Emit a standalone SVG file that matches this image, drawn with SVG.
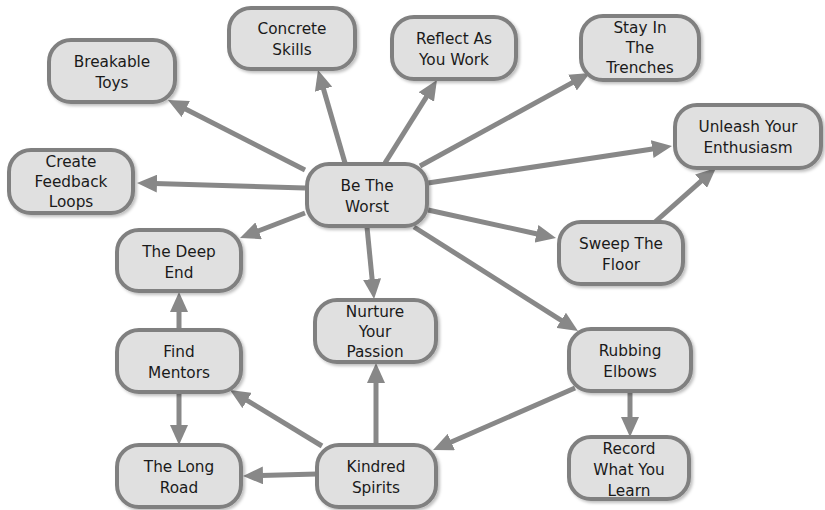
<svg xmlns="http://www.w3.org/2000/svg" width="825" height="510" viewBox="0 0 825 510">
<defs>
<marker id="ah" markerUnits="userSpaceOnUse" markerWidth="20" markerHeight="18" refX="2" refY="9" orient="auto">
<path d="M0,0 L20,9 L0,18 z" fill="#888888"/>
</marker>
<filter id="sh" x="-10%" y="-10%" width="125%" height="130%">
<feDropShadow dx="2" dy="2" stdDeviation="1.5" flood-color="#000" flood-opacity="0.25"/>
</filter>
<style>
.e{stroke:#888888;stroke-width:5;fill:none;marker-end:url(#ah)}
.n rect{fill:#e0e0e0;stroke:#808080;stroke-width:4;filter:url(#sh)}
.n text{font-family:"DejaVu Sans",Verdana,sans-serif;font-size:15.3px;fill:#1a1a1a;text-anchor:middle}
</style>
</defs>
<rect width="825" height="510" fill="#ffffff"/>
<g id="connectors">
<line class="e" x1="305" y1="170" x2="184" y2="108.2"/>
<line class="e" x1="345" y1="163" x2="323" y2="87.3"/>
<line class="e" x1="385" y1="163" x2="427.4" y2="95.3"/>
<line class="e" x1="420" y1="166" x2="574.2" y2="81.6"/>
<line class="e" x1="428" y1="183" x2="654.2" y2="148.7"/>
<line class="e" x1="305" y1="188" x2="155" y2="183.5"/>
<line class="e" x1="305" y1="213" x2="256.8" y2="231.5"/>
<line class="e" x1="428" y1="210" x2="538.4" y2="234.2"/>
<line class="e" x1="367" y1="227" x2="372.3" y2="281.1"/>
<line class="e" x1="414" y1="227" x2="562.8" y2="321.4"/>
<line class="e" x1="655" y1="222" x2="702.5" y2="179.9"/>
<line class="e" x1="179" y1="330" x2="179" y2="310"/>
<line class="e" x1="179" y1="392" x2="179" y2="427"/>
<line class="e" x1="322" y1="446" x2="245.4" y2="399.4"/>
<line class="e" x1="376" y1="445" x2="376" y2="381"/>
<line class="e" x1="317" y1="474" x2="261" y2="475.5"/>
<line class="e" x1="575" y1="388" x2="449.5" y2="442.8"/>
<line class="e" x1="630" y1="391" x2="630" y2="419"/>
</g>
<g id="worst" class="n"><rect x="307" y="164" width="120" height="62" rx="22"/><text x="367" y="191">Be The</text><text x="367" y="212">Worst</text></g>
<g id="breakable" class="n"><rect x="49" y="40" width="126" height="62" rx="22"/><text x="112" y="67">Breakable</text><text x="112" y="88">Toys</text></g>
<g id="concrete" class="n"><rect x="229" y="8" width="126" height="61" rx="22"/><text x="292" y="34">Concrete</text><text x="292" y="55">Skills</text></g>
<g id="reflect" class="n"><rect x="392" y="17" width="124" height="62" rx="22"/><text x="454" y="44">Reflect As</text><text x="454" y="65">You Work</text></g>
<g id="stay" class="n"><rect x="581" y="16" width="118" height="64" rx="22"/><text x="640" y="33">Stay In</text><text x="640" y="53">The</text><text x="640" y="73">Trenches</text></g>
<g id="unleash" class="n"><rect x="675" y="105" width="146" height="63" rx="22"/><text x="748" y="132">Unleash Your</text><text x="748" y="153">Enthusiasm</text></g>
<g id="feedback" class="n"><rect x="9" y="150" width="124" height="63" rx="22"/><text x="71" y="167">Create</text><text x="71" y="187">Feedback</text><text x="71" y="207">Loops</text></g>
<g id="deepend" class="n"><rect x="117" y="230" width="124" height="61" rx="22"/><text x="179" y="257">The Deep</text><text x="179" y="278">End</text></g>
<g id="sweep" class="n"><rect x="559" y="222" width="124" height="62" rx="22"/><text x="621" y="249">Sweep The</text><text x="621" y="270">Floor</text></g>
<g id="nurture" class="n"><rect x="315" y="300" width="121" height="62" rx="22"/><text x="375" y="317">Nurture</text><text x="375" y="337">Your</text><text x="375" y="357">Passion</text></g>
<g id="mentors" class="n"><rect x="117" y="330" width="124" height="62" rx="22"/><text x="179" y="357">Find</text><text x="179" y="378">Mentors</text></g>
<g id="rubbing" class="n"><rect x="569" y="329" width="122" height="62" rx="22"/><text x="630" y="356">Rubbing</text><text x="630" y="377">Elbows</text></g>
<g id="longroad" class="n"><rect x="117" y="445" width="124" height="62" rx="22"/><text x="179" y="472">The Long</text><text x="179" y="493">Road</text></g>
<g id="kindred" class="n"><rect x="317" y="445" width="119" height="62" rx="22"/><text x="376" y="472">Kindred</text><text x="376" y="493">Spirits</text></g>
<g id="record" class="n"><rect x="569" y="437" width="120" height="62" rx="22"/><text x="629" y="454">Record</text><text x="629" y="475">What You</text><text x="629" y="496">Learn</text></g>
</svg>
